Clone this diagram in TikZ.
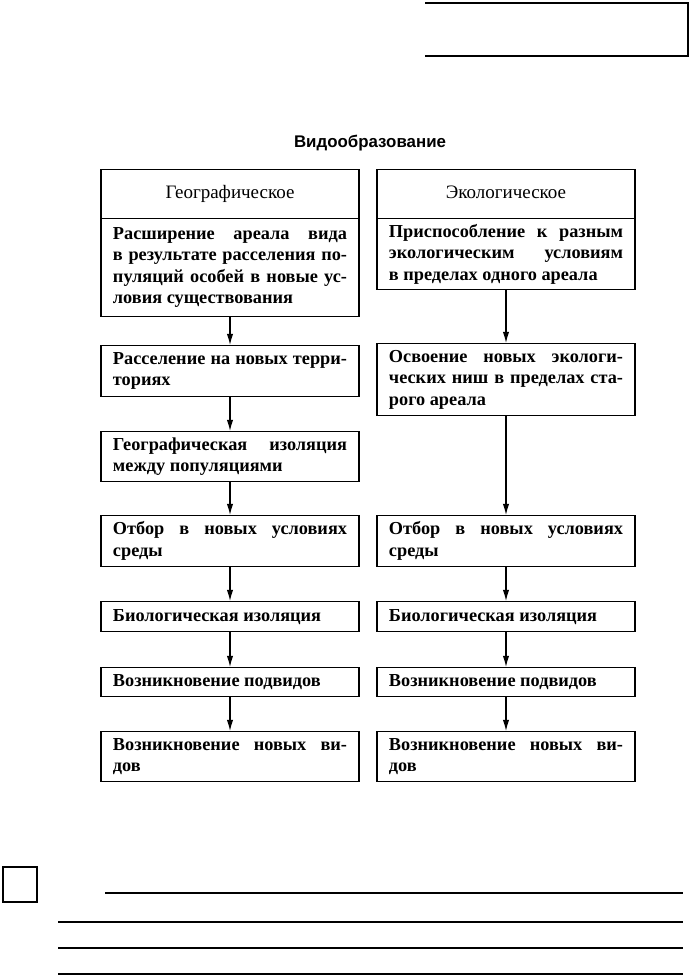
\documentclass[tikz,border=0pt]{standalone}
\usepackage{fontspec}
\setmainfont{Liberation Serif}
\newfontfamily\titlefont{Liberation Sans}
\usetikzlibrary{arrows.meta}
\tikzset{
	stagebox/.style={draw, line width=0.9pt, anchor=north, text width=5.85cm, inner xsep=0.3cm, inner ysep=0pt, align=justify, font=\bfseries\fontsize{13}{15.3}\selectfont},
	headbox/.style={draw, line width=0.9pt, anchor=north, minimum width=6.45cm, inner sep=0pt, text height=2.1ex, text depth=0.7ex, font=\fontsize{13.5}{16}\selectfont},
	flow/.style={line width=0.8pt, -{Latex[length=2.8mm,width=1.6mm]}},
	rule/.style={line width=0.9pt}
}

\begin{document}
\begin{tikzpicture}[x=0.025cm, y=-0.025cm]
			%%%%% START %%%%%
			\useasboundingbox (0, 0) rectangle (689, 975);
			
			\draw[rule] (425, 3) -- (688, 3) -- (688, 57);
			\draw[rule] (425, 56) -- (688, 56);
			
			\node[font=\titlefont\bfseries\fontsize{12}{14}\selectfont] (title) at (370, 143) {Видообразование};
			
			%%%%% GEO %%%%%
			\node[headbox, minimum height=1.225cm] (geoHead) at (230, 169) {Географическое};
			\node[stagebox, minimum height=2.45cm] (geoBody) at (230, 218) {Расширение ареала вида\linebreak в результате расселения по-\linebreak пуляций особей в новые ус-\linebreak ловия существования};
			\node[stagebox, minimum height=1.275cm] (geo2) at (230, 345) {Расселение на новых терри-\linebreak ториях};
			\node[stagebox, minimum height=1.25cm] (geo3) at (230, 431) {Географическая изоляция\linebreak между популяциями};
			\node[stagebox, minimum height=1.275cm] (geo4) at (230, 515) {Отбор в новых условиях\linebreak среды};
			\node[stagebox, minimum height=0.75cm] (geo5) at (230, 601) {Биологическая изоляция};
			\node[stagebox, minimum height=0.725cm] (geo6) at (230, 667) {Возникновение подвидов};
			\node[stagebox, minimum height=1.25cm] (geo7) at (230, 731) {Возникновение новых ви-\linebreak дов};
			
			\draw[flow] (geoBody) -- (geo2);
			\draw[flow] (geo2) -- (geo3);
			\draw[flow] (geo3) -- (geo4);
			\draw[flow] (geo4) -- (geo5);
			\draw[flow] (geo5) -- (geo6);
			\draw[flow] (geo6) -- (geo7);
			
			%%%%% ECO %%%%%
			\node[headbox, minimum height=1.225cm] (ecoHead) at (506, 169) {Экологическое};
			\node[stagebox, minimum height=1.775cm] (ecoBody) at (506, 218) {Приспособление к разным\linebreak экологическим условиям\linebreak в пределах одного ареала};
			\node[stagebox, minimum height=1.8cm] (eco2) at (506, 343) {Освоение новых экологи-\linebreak ческих ниш в пределах ста-\linebreak рого ареала};
			\node[stagebox, minimum height=1.275cm] (eco4) at (506, 515) {Отбор в новых условиях\linebreak среды};
			\node[stagebox, minimum height=0.75cm] (eco5) at (506, 601) {Биологическая изоляция};
			\node[stagebox, minimum height=0.725cm] (eco6) at (506, 667) {Возникновение подвидов};
			\node[stagebox, minimum height=1.25cm] (eco7) at (506, 731) {Возникновение новых ви-\linebreak дов};
			
			\draw[flow] (ecoBody) -- (eco2);
			\draw[flow] (eco2) -- (eco4);
			\draw[flow] (eco4) -- (eco5);
			\draw[flow] (eco5) -- (eco6);
			\draw[flow] (eco6) -- (eco7);
			
			%%%%% ANSWER LINES %%%%%
			\draw[rule] (3, 867) rectangle (37, 902);
			\draw[rule] (105, 893) -- (683, 893);
			\draw[rule] (58, 922) -- (683, 922);
			\draw[rule] (58, 948) -- (683, 948);
			\draw[rule] (58, 974) -- (683, 974);
			%%%%% END %%%%%
\end{tikzpicture}
\end{document}
